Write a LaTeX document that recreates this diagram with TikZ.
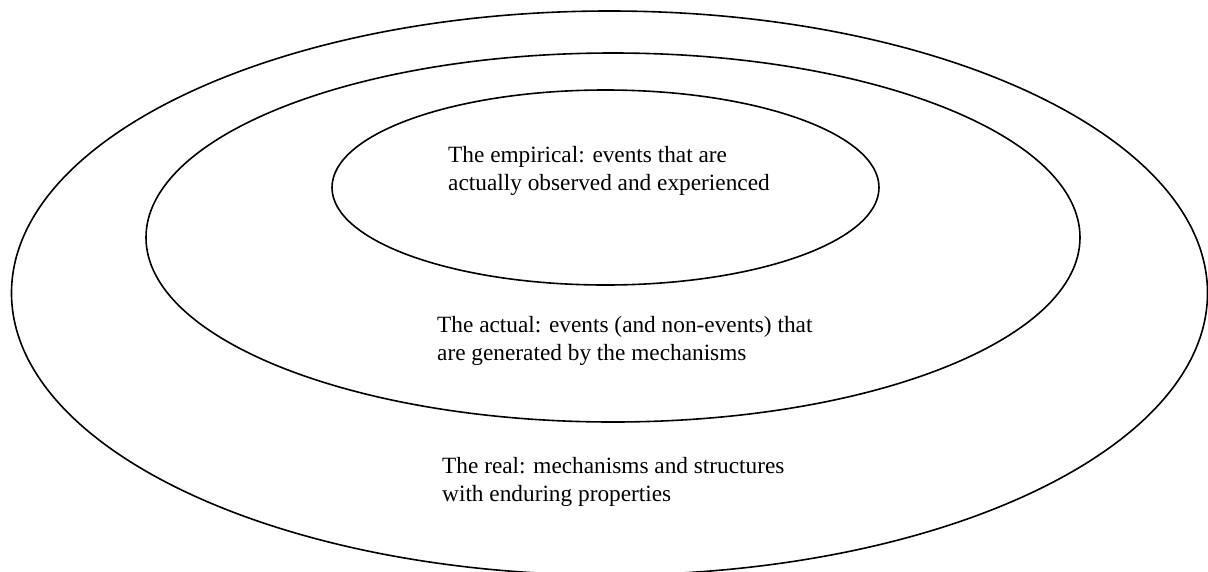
\documentclass[tikz,border=0pt]{standalone}
\usepackage{fontspec}
\setmainfont{Liberation Serif}
\usetikzlibrary{shapes.geometric}
\begin{document}
\begin{tikzpicture}[x=1pt,y=-1pt,
  ring/.style={draw=black, line width=1.6pt, ellipse, inner sep=0pt},
  label/.style={anchor=base west, align=left, inner sep=0pt,
    font=\fontsize{23.3}{28.5}\selectfont}]
  \useasboundingbox (0,0) rectangle (1208,571);
  % the three nested domains
  \node[ring, minimum width=1196pt, minimum height=564pt] (real) at (609.5,293) {};
  \node[ring, minimum width=934pt, minimum height=369pt] (actual) at (613,237.5) {};
  \node[ring, minimum width=547pt, minimum height=195pt] (empirical) at (605.5,187.5) {};
  % their descriptions (anchored at the baseline of the last line)
  \node[label] (empiricaltext) at (448,190.5) {The empirical: events that are\\actually observed and experienced};
  \node[label] (actualtext) at (437,360.5) {The actual: events (and non-events) that\\are generated by the mechanisms};
  \node[label] (realtext) at (442,501.5) {The real: mechanisms and structures\\with enduring properties};
\end{tikzpicture}
\end{document}
